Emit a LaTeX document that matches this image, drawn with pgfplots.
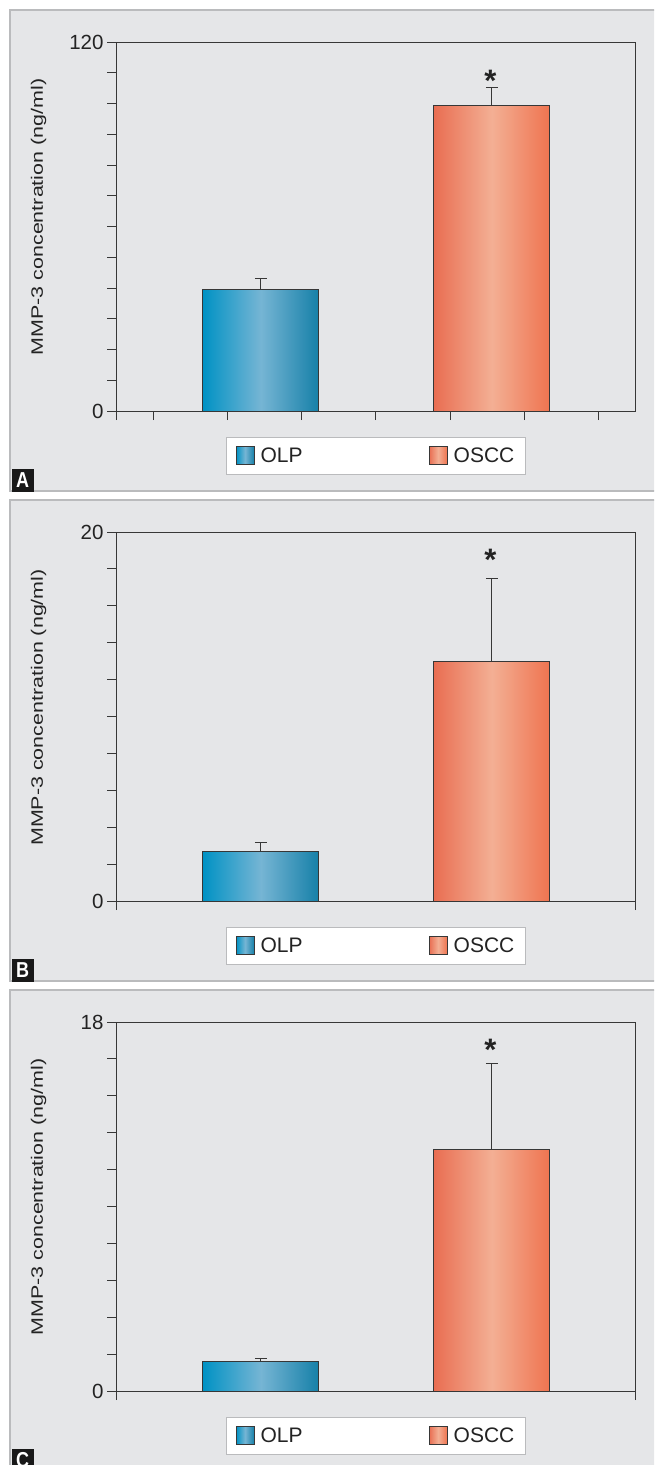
\documentclass[border=0pt]{standalone}
\usepackage{fontspec}
\setmainfont{Liberation Sans}
\usepackage{graphicx}
\usepackage{pgfplots}
\pgfplotsset{compat=1.18}

\definecolor{panelgray}{RGB}{229,230,232}
\definecolor{panelborder}{RGB}{186,187,189}
\definecolor{axcol}{RGB}{55,55,55}
\definecolor{txtcol}{RGB}{35,35,35}
\definecolor{bluel}{RGB}{0,146,196}
\definecolor{bluem}{RGB}{118,181,212}
\definecolor{bluer}{RGB}{22,128,168}
\definecolor{orl}{RGB}{233,110,82}
\definecolor{orm}{RGB}{243,175,148}
\definecolor{orr}{RGB}{239,116,80}

\pgfplotsset{
  panel/.style={
    scale only axis, width=520pt, height=369pt,
    xmin=0, xmax=7, ymin=0,
    axis line style={draw=axcol, line width=1pt},
    tick style={draw=axcol, line width=1pt},
    major tick length=9pt, minor tick length=9pt,
    tick align=outside, tick pos=left,
    xticklabels={},
    /pgf/number format/assume math mode=true,
    yticklabel style={font=\fontsize{20.5}{20}\selectfont, text=txtcol},
    legend columns=2,
    legend style={at={(0.5,-0.0705)}, anchor=north, draw=panelborder, line width=1pt,
      fill=white, font=\fontsize{21}{22}\selectfont, text=txtcol,
      inner xsep=9pt, inner ysep=8pt,
      /tikz/every odd column/.append style={column sep=4pt},
      /tikz/every even column/.append style={column sep=124pt}},
  },
  olp/.style={ybar, bar width=116pt, bar shift=0pt, draw=axcol, line width=1pt,
    left color=bluel, right color=bluer, middle color=bluem,
    legend image code/.code={\draw[##1, draw=axcol, line width=1pt] (0pt,-8pt) rectangle (18pt,10pt);},
    error bars/.cd, y dir=plus, y explicit,
    error bar style={draw=axcol, line width=1pt},
    error mark options={rotate=90, mark size=6pt, line width=1pt, draw=axcol}},
  oscc/.style={ybar, bar width=116pt, bar shift=0pt, draw=axcol, line width=1pt,
    left color=orl, right color=orr, middle color=orm,
    legend image code/.code={\draw[##1, draw=axcol, line width=1pt] (0pt,-8pt) rectangle (18pt,10pt);},
    error bars/.cd, y dir=plus, y explicit,
    error bar style={draw=axcol, line width=1pt},
    error mark options={rotate=90, mark size=6pt, line width=1pt, draw=axcol}},
}

\begin{document}
\begin{tikzpicture}
\useasboundingbox (0pt,0pt) rectangle (654pt,-1465pt);
\clip (0pt,0pt) rectangle (654pt,-1465pt);

% panel backgrounds
\foreach \t/\b in {10/491, 500/981, 990/1480}{
  \fill[panelgray] (10pt,-\t pt) rectangle (660pt,-\b pt);
  \draw[panelborder, line width=1.5pt] (660pt,-\t pt) -- (10pt,-\t pt) -- (10pt,-\b pt) -- (660pt,-\b pt);
}

% y labels
\foreach \yc in {217, 707.5, 1197}{
  \node[rotate=90, font=\fontsize{16.5}{17}\selectfont, text=txtcol] at (38.5pt,-\yc pt)
    {\scalebox{1.3}[1]{MMP-3 concentration (ng/ml)}};
}

% panel letters
\foreach \L/\yb in {A/491.5, B/981.5, C/1471.5}{
  \fill[black!90] (11.5pt,-\yb pt) rectangle (33.5pt,-\yb pt+22.5pt);
  \node[white, font=\bfseries\fontsize{18}{18}\selectfont] at (22.5pt,-\yb pt+11.25pt) {\scalebox{1}[1.2]{\L}};
}

% ---------- A ----------
\begin{axis}[panel, at={(116pt,-411pt)}, anchor=south west,
  ymax=120, ytick={0,120}, minor ytick={10,20,...,110},
  xtick={0,0.5,1.5,2.5,3.5,4.5,5.5,6.5}]
\addplot[olp] coordinates {(1.95,39.4) +- (0,3.6)};
\addplot[oscc] coordinates {(5.06,99.3) +- (0,5.9)};
\legend{OLP,OSCC}
\node[anchor=base, font=\bfseries\fontsize{31}{31}\selectfont, text=txtcol] at (axis cs:5.04,104.0) {*};
\end{axis}

% ---------- B ----------
\begin{axis}[panel, at={(116pt,-901pt)}, anchor=south west,
  ymax=20, ytick={0,20}, minor ytick={2,4,...,18},
  xtick={0,7}]
\addplot[olp] coordinates {(1.95,2.67) +- (0,0.51)};
\addplot[oscc] coordinates {(5.06,12.98) +- (0,4.49)};
\legend{OLP,OSCC}
\node[anchor=base, font=\bfseries\fontsize{31}{31}\selectfont, text=txtcol] at (axis cs:5.04,17.9) {*};
\end{axis}

% ---------- C ----------
\begin{axis}[panel, at={(116pt,-1391pt)}, anchor=south west,
  ymax=18, ytick={0,18}, minor ytick={1.8,3.6,5.4,7.2,9,10.8,12.6,14.4,16.2},
  xtick={0,7}]
\addplot[olp] coordinates {(1.95,1.43) +- (0,0.16)};
\addplot[oscc] coordinates {(5.06,11.79) +- (0,4.21)};
\legend{OLP,OSCC}
\node[anchor=base, font=\bfseries\fontsize{31}{31}\selectfont, text=txtcol] at (axis cs:5.04,16.1) {*};
\end{axis}
\end{tikzpicture}
\end{document}
